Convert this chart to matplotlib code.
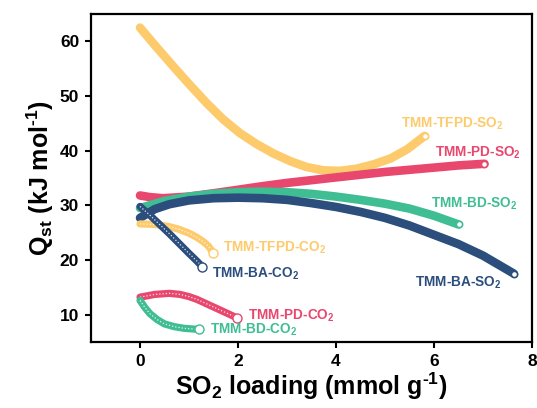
import matplotlib
matplotlib.use("Agg")
import matplotlib.pyplot as plt

plt.rcParams['font.family'] = ['Liberation Sans', 'DejaVu Sans']
plt.rcParams['font.weight'] = 'bold'
plt.rcParams['mathtext.fontset'] = 'custom'
plt.rcParams['mathtext.rm'] = 'Liberation Sans:bold'
plt.rcParams['mathtext.it'] = 'Liberation Sans:bold'
plt.rcParams['mathtext.bf'] = 'Liberation Sans:bold'
plt.rcParams['mathtext.default'] = 'bf'

YELLOW = '#FDCA6C'
PINK = '#E8476E'
GREEN = '#3FBE94'
BLUE = '#2B4E7D'

# SO2 isosteric heats (loading in mmol/g, Qst in kJ/mol)
tfpd_so2_x = [0, 0.34, 0.68, 1.02, 1.36, 1.7, 2.04, 2.38, 2.72, 3.06, 3.4, 3.74,
              4.08, 4.42, 4.77, 5.12, 5.46, 5.81]
tfpd_so2_y = [62.5, 58.9, 55.4, 52.0, 48.7, 45.7, 43.2, 41.2, 39.5, 38.1, 37.0, 36.4,
              36.3, 36.7, 37.5, 38.6, 40.3, 42.7]

pd_so2_x = [0, 0.2, 0.47, 1.0, 1.5, 2.04, 2.5, 3.0, 3.5, 3.89, 4.5, 5.0, 5.5, 6.0, 6.5, 7.03]
pd_so2_y = [31.8, 31.5, 31.3, 31.6, 32.2, 32.9, 33.5, 34.1, 34.6, 35.0, 35.6, 36.1, 36.5, 36.9, 37.3, 37.6]

bd_so2_x = [0, 0.5, 1.0, 1.5, 2.0, 2.5, 3.0, 3.5, 4.0, 4.5, 5.0, 5.5, 6.0, 6.5]
bd_so2_y = [29.5, 30.8, 31.6, 32.1, 32.4, 32.5, 32.4, 32.1, 31.6, 31.0, 30.3, 29.4, 28.1, 26.5]

ba_so2_x = [0, 0.3, 0.6, 1.0, 1.5, 2.0, 2.5, 3.0, 3.5, 4.0, 4.5, 5.0, 5.5, 6.0, 6.5, 7.0, 7.63]
ba_so2_y = [27.7, 29.3, 30.2, 30.9, 31.3, 31.4, 31.3, 31.0, 30.4, 29.7, 28.8, 27.7, 26.3, 24.6, 22.9, 20.8, 17.5]

# CO2 isosteric heats
tfpd_co2_x = [0, 0.3, 0.6, 0.8, 1.0, 1.15, 1.3, 1.4, 1.49]
tfpd_co2_y = [26.6, 26.5, 26.1, 25.6, 24.9, 24.2, 23.3, 22.5, 21.3]

ba_co2_x = [0, 0.2, 0.4, 0.6, 0.8, 1.0, 1.15, 1.27]
ba_co2_y = [29.8, 28.2, 26.5, 24.8, 23.0, 21.2, 19.9, 18.8]

pd_co2_x = [0, 0.3, 0.6, 0.82, 1.0, 1.16, 1.33, 1.5, 1.67, 1.84, 1.98]
pd_co2_y = [13.2, 13.7, 13.9, 13.7, 13.3, 12.8, 12.1, 11.4, 10.7, 10.0, 9.4]

bd_co2_x = [0, 0.1, 0.2, 0.35, 0.5, 0.7, 0.9, 1.05, 1.2]
bd_co2_y = [12.6, 11.3, 10.2, 9.1, 8.3, 7.8, 7.5, 7.4, 7.3]

fig = plt.figure(figsize=(5.37, 4.08), dpi=100)
ax = fig.add_axes([0.1695, 0.1618, 0.8212, 0.8039])


def so2_curve(x, y, color):
    ax.plot(x, y, color=color, lw=6.2, solid_capstyle='round', solid_joinstyle='round')
    ax.plot(x[-1], y[-1], 'o', ms=4.5, mfc='white', mec=color, mew=1.2)


def co2_curve(x, y, color):
    ax.plot(x, y, color=color, lw=5.2, solid_capstyle='round', solid_joinstyle='round')
    ax.plot(x, y, color='white', lw=0.9, ls=(0, (1, 1.6)), alpha=0.85)
    ax.plot(x[-1], y[-1], 'o', ms=6.5, mfc='white', mec=color, mew=1.0)


so2_curve(tfpd_so2_x, tfpd_so2_y, YELLOW)
so2_curve(pd_so2_x, pd_so2_y, PINK)
so2_curve(bd_so2_x, bd_so2_y, GREEN)
so2_curve(ba_so2_x, ba_so2_y, BLUE)

co2_curve(tfpd_co2_x, tfpd_co2_y, YELLOW)
co2_curve(ba_co2_x, ba_co2_y, BLUE)
co2_curve(pd_co2_x, pd_co2_y, PINK)
co2_curve(bd_co2_x, bd_co2_y, GREEN)

labels = [
    ('TMM-TFPD-SO$_2$', 5.32, 44.9, YELLOW),
    ('TMM-PD-SO$_2$', 6.03, 39.6, PINK),
    ('TMM-BD-SO$_2$', 5.93, 30.3, GREEN),
    ('TMM-BA-SO$_2$', 5.62, 15.9, BLUE),
    ('TMM-TFPD-CO$_2$', 1.70, 22.3, YELLOW),
    ('TMM-BA-CO$_2$', 1.47, 17.5, BLUE),
    ('TMM-PD-CO$_2$', 2.21, 9.8, PINK),
    ('TMM-BD-CO$_2$', 1.43, 7.3, GREEN),
]
for text, lx, ly, c in labels:
    ax.text(lx, ly, text, color=c, fontsize=9.8, fontweight='bold',
            ha='left', va='center')

ax.set_xlim(-1, 8)
ax.set_ylim(5, 65)
ax.set_xticks([0, 2, 4, 6, 8])
ax.set_yticks([10, 20, 30, 40, 50, 60])
ax.tick_params(direction='out', length=4.5, width=1.5, labelsize=12.5, pad=4)
for lab in ax.get_xticklabels() + ax.get_yticklabels():
    lab.set_fontweight('bold')
for sp in ax.spines.values():
    sp.set_linewidth(1.6)

ax.set_xlabel(r'SO$_2$ loading (mmol g$^{\text{-1}}$)', fontsize=18, fontweight='bold', labelpad=1)
ax.set_ylabel(r'Q$_{st}$ (kJ mol$^{\text{-1}}$)', fontsize=18, fontweight='bold', labelpad=3)

fig.savefig('out.png', dpi=100)
